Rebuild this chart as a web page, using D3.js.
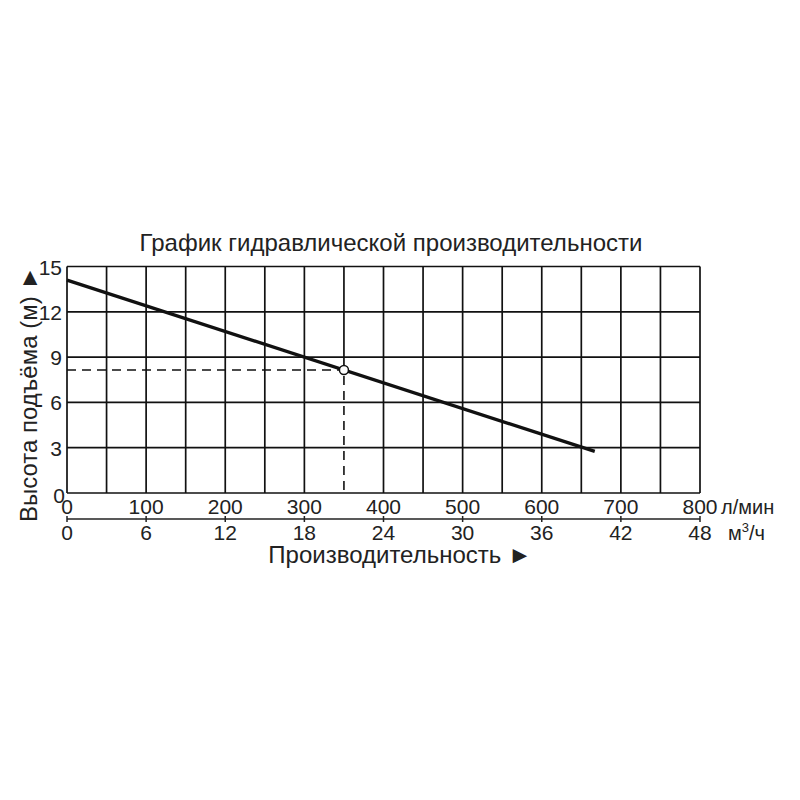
<!DOCTYPE html>
<html><head><meta charset="utf-8">
<script src="https://cdn.jsdelivr.net/npm/d3@7"></script>
<style>
html,body{margin:0;padding:0;background:#fff;}
svg{display:block;font-family:"Liberation Sans",Arial,sans-serif;}
</style></head>
<body>
<svg id="c" width="800" height="800"></svg>
<script>
// ---- data ----
const curveFlow = [0, 667];          // л/мин
const curveHead = [14.1, 2.75];      // м
const opFlow = [350];
const opHead = [8.15];
const flowTicks = [0, 100, 200, 300, 400, 500, 600, 700, 800];
const m3hLabels = [0, 6, 12, 18, 24, 30, 36, 42, 48];
const gridFlow = [0,50,100,150,200,250,300,350,400,450,500,550,600,650,700,750,800];
const headTicks = [0, 3, 6, 9, 12, 15];

const title = "График гидравлической производительности";
const yTitle = "Высота подъёма (м) ►";
const xTitle = "Производительность ►";

const svg = d3.select("#c");
const L = 67, R = 700, T = 266.5, B = 493;
const x = d3.scaleLinear().domain([0, 800]).range([L, R]);
const y = d3.scaleLinear().domain([0, 15]).range([B, T]);
const FS = 21;

// grid (the vertical grid line at the operating flow stops at the point; dashed below)
const g = svg.append("g");
g.selectAll("line.v").data(gridFlow).join("line")
  .attr("x1", d => x(d)).attr("x2", d => x(d)).attr("y1", T)
  .attr("y2", d => d === opFlow[0] ? y(opHead[0]) : B)
  .attr("stroke", "#111").attr("stroke-width", 1.7);
g.selectAll("line.h").data(headTicks).join("line")
  .attr("x1", L).attr("x2", R).attr("y1", d => y(d)).attr("y2", d => y(d))
  .attr("stroke", "#111").attr("stroke-width", 1.7);

// y tick labels
svg.append("g").selectAll("text").data(headTicks).join("text")
  .attr("x", d => d === 0 ? 65 : 62).attr("y", d => d === 0 ? y(d) + 10 : y(d) + 8)
  .attr("text-anchor", "end").attr("font-size", FS).attr("fill", "#222")
  .text(d => d);

// top x labels (л/мин)
svg.append("g").selectAll("text").data(flowTicks).join("text")
  .attr("x", d => x(d)).attr("y", 514)
  .attr("text-anchor", "middle").attr("font-size", FS).attr("fill", "#222")
  .text(d => d);

// second axis line
svg.append("line").attr("x1", x(0)).attr("x2", x(800)).attr("y1", 519).attr("y2", 519)
  .attr("stroke", "#222").attr("stroke-width", 1.3);
svg.append("g").selectAll("line").data(flowTicks).join("line")
  .attr("x1", d => x(d)).attr("x2", d => x(d)).attr("y1", 516).attr("y2", 522)
  .attr("stroke", "#222").attr("stroke-width", 1.5);
svg.append("g").selectAll("text").data(m3hLabels).join("text")
  .attr("x", (d, i) => x(flowTicks[i])).attr("y", 540)
  .attr("text-anchor", "middle").attr("font-size", FS).attr("fill", "#222")
  .text(d => d);

// units
svg.append("text").attr("x", 721).attr("y", 514).attr("font-size", 20).attr("fill", "#222").text("л/мин");
const u = svg.append("text").attr("x", 728).attr("y", 540).attr("font-size", 20).attr("fill", "#222");
u.append("tspan").text("м");
u.append("tspan").attr("dy", -8).attr("font-size", 13).text("3");
u.append("tspan").attr("dy", 8).text("/ч");

// dashed guide lines
svg.append("line").attr("x1", x(0)).attr("x2", x(opFlow[0])).attr("y1", y(opHead[0])).attr("y2", y(opHead[0]))
  .attr("stroke", "#111").attr("stroke-width", 1.6).attr("stroke-dasharray", "9,6");
svg.append("line").attr("x1", x(opFlow[0])).attr("x2", x(opFlow[0])).attr("y1", y(opHead[0]) + 6).attr("y2", B)
  .attr("stroke", "#111").attr("stroke-width", 1.6).attr("stroke-dasharray", "9,6");

// curve
const line = d3.line().x((d, i) => x(curveFlow[i])).y(d => y(d));
svg.append("path").attr("d", line(curveHead)).attr("fill", "none")
  .attr("stroke", "#111").attr("stroke-width", 3.4);

// operating point
svg.selectAll("circle.op").data(opFlow).join("circle")
  .attr("cx", d => x(d)).attr("cy", (d, i) => y(opHead[i])).attr("r", 4.5)
  .attr("fill", "#fff").attr("stroke", "#111").attr("stroke-width", 1.5);

// titles
svg.append("text").attr("x", 391).attr("y", 251).attr("text-anchor", "middle")
  .attr("font-size", 24).attr("fill", "#222").text(title);
svg.append("text").attr("x", 400).attr("y", 563).attr("text-anchor", "middle")
  .attr("font-size", 24).attr("fill", "#222").text(xTitle);
svg.append("text").attr("transform", "translate(37,394) rotate(-90)").attr("text-anchor", "middle")
  .attr("font-size", 24).attr("fill", "#222").text(yTitle);
</script>
</body></html>
